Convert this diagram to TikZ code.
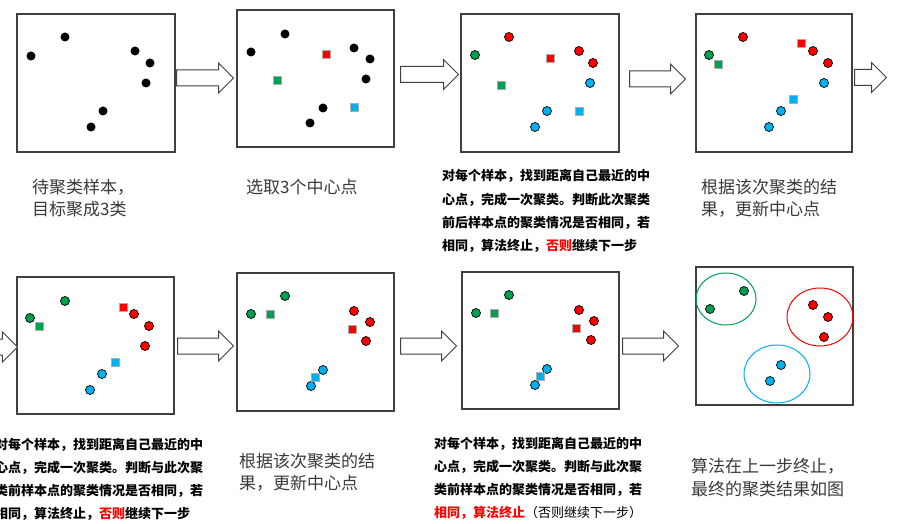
\documentclass[tikz,border=0pt]{standalone}
\usepackage{fontspec}
\newfontfamily\cjk{Noto Sans CJK SC}
\usetikzlibrary{shapes.arrows}

\definecolor{kgreen}{HTML}{00A050}
\definecolor{kred}{HTML}{FF0000}
\definecolor{kblue}{HTML}{00B0F0}
\definecolor{frame}{HTML}{404040}
\definecolor{capgray}{HTML}{3A3A3A}

\tikzset{
  panel/.style={draw=frame, line width=1.2bp},
  sample/.style={circle, fill=black, inner sep=0pt, minimum size=9bp},
  csample/.style={circle, fill=#1, draw=black, line width=0.7bp, inner sep=0pt, minimum size=9bp},
  centre/.style={rectangle, fill=#1, draw=gray!65, line width=0.7bp, inner sep=0pt, minimum size=8bp},
  blockarrow/.style={single arrow, draw=frame, fill=white, line width=1bp,
    minimum width=29bp, minimum height=#1, single arrow head extend=7bp,
    inner xsep=0pt, inner ysep=7.5bp, anchor=tail},
  caption/.style={anchor=base west, inner sep=0pt, text=capgray,
    font=\cjk\fontsize{17bp}{22bp}\selectfont},
  note/.style={anchor=base west, inner sep=0pt,
    font=\cjk\bfseries\fontsize{13bp}{16bp}\selectfont},
}

\begin{document}
\begin{tikzpicture}[x=1bp, y=-1bp]
  \useasboundingbox (0,0) rectangle (922,524);
  \fill[white] (0,0) rectangle (922,524);
  \clip (0,0) rectangle (922,524);

  % Frames
  \draw[panel] (17,14) rectangle (175,152);
  \draw[panel] (237,10) rectangle (394,147);
  \draw[panel] (461,14) rectangle (619,152);
  \draw[panel] (696,14) rectangle (852,152);
  \draw[panel] (17,277) rectangle (174,414);
  \draw[panel] (237,273) rectangle (394,411);
  \draw[panel] (462,272) rectangle (619,409);
  \draw[panel] (696,267) rectangle (853,405);

  % Arrows between steps
  \node[blockarrow=57bp] (arr1) at (176,78) {};
  \node[blockarrow=58bp] (arr2) at (400,74.5) {};
  \node[blockarrow=56bp] (arr3) at (629,79) {};
  \node[blockarrow=32bp] (arr4) at (854,77.5) {};
  \node[blockarrow=57bp] (arr5) at (-40,347) {};
  \node[blockarrow=56bp] (arr6) at (177,346) {};
  \node[blockarrow=56bp] (arr7) at (400,346) {};
  \node[blockarrow=56bp] (arr8) at (622,346) {};

  % Step 1: raw samples
  \foreach \x/\y [count=\i] in {31/56, 65/37, 135/51, 150/63, 146/83, 103/111, 91/127}
    \node[sample] (a\i) at (\x,\y) {};

  % Step 2: pick three centres
  \foreach \x/\y [count=\i] in {251/52, 285/34, 354/48, 370/59, 366/79, 323/108, 310/123}
    \node[sample] (b\i) at (\x,\y) {};
  \node[centre=kred] (bR) at (326,54) {};
  \node[centre=kgreen] (bG) at (277,80) {};
  \node[centre=kblue] (bB) at (354,107) {};

  % Step 3: first assignment
  \node[csample=kgreen] (c1) at (475,55) {};
  \foreach \x/\y [count=\i] in {509/37, 579/51, 593/63}
    \node[csample=kred] (cr\i) at (\x,\y) {};
  \foreach \x/\y [count=\i] in {590/83, 547/111, 535/127}
    \node[csample=kblue] (cb\i) at (\x,\y) {};
  \node[centre=kred] (cR) at (550,58) {};
  \node[centre=kgreen] (cG) at (501,85) {};
  \node[centre=kblue] (cB) at (579,111) {};

  % Step 4: new centres
  \node[csample=kgreen] (d1) at (709,55) {};
  \foreach \x/\y [count=\i] in {743/37, 813/51, 828/63}
    \node[csample=kred] (dr\i) at (\x,\y) {};
  \foreach \x/\y [count=\i] in {824/83, 781/111, 769/127}
    \node[csample=kblue] (db\i) at (\x,\y) {};
  \node[centre=kgreen] (dG) at (718,64) {};
  \node[centre=kred] (dR) at (801,43) {};
  \node[centre=kblue] (dB) at (793,99) {};

  % Step 5: second assignment
  \foreach \x/\y [count=\i] in {30/318, 65/301}
    \node[csample=kgreen] (eg\i) at (\x,\y) {};
  \foreach \x/\y [count=\i] in {134/314, 149/326, 145/346}
    \node[csample=kred] (er\i) at (\x,\y) {};
  \foreach \x/\y [count=\i] in {102/374, 90/390}
    \node[csample=kblue] (eb\i) at (\x,\y) {};
  \node[centre=kgreen] (eG) at (39,326) {};
  \node[centre=kred] (eR) at (123,307) {};
  \node[centre=kblue] (eB) at (115,362) {};

  % Step 6: centres again
  \foreach \x/\y [count=\i] in {251/314, 285/296}
    \node[csample=kgreen] (fg\i) at (\x,\y) {};
  \foreach \x/\y [count=\i] in {354/311, 370/322, 366/341}
    \node[csample=kred] (fr\i) at (\x,\y) {};
  \foreach \x/\y [count=\i] in {323/370, 311/386}
    \node[csample=kblue] (fb\i) at (\x,\y) {};
  \node[centre=kgreen] (fG) at (270,314) {};
  \node[centre=kred] (fR) at (352,329) {};
  \node[centre=kblue] (fB) at (315,377) {};

  % Step 7: nothing changes
  \foreach \x/\y [count=\i] in {476/313, 509/295}
    \node[csample=kgreen] (gg\i) at (\x,\y) {};
  \foreach \x/\y [count=\i] in {579/310, 594/321, 591/340}
    \node[csample=kred] (gr\i) at (\x,\y) {};
  \foreach \x/\y [count=\i] in {547/369, 535/385}
    \node[csample=kblue] (gb\i) at (\x,\y) {};
  \node[centre=kgreen] (gG) at (494,313) {};
  \node[centre=kred] (gR) at (576,328) {};
  \node[centre=kblue] (gB) at (540,376) {};

  % Step 8: final clusters
  \draw[kgreen, line width=1bp] (726,299) ellipse [x radius=30bp, y radius=26bp];
  \draw[kred, line width=1bp] (820,317) ellipse [x radius=33bp, y radius=29bp];
  \draw[kblue, line width=1bp] (777,374) ellipse [x radius=33bp, y radius=29bp];
  \foreach \x/\y [count=\i] in {710/309, 744/291}
    \node[csample=kgreen] (hg\i) at (\x,\y) {};
  \foreach \x/\y [count=\i] in {813/305, 828/317, 824/337}
    \node[csample=kred] (hr\i) at (\x,\y) {};
  \foreach \x/\y [count=\i] in {781/365, 770/381}
    \node[csample=kblue] (hb\i) at (\x,\y) {};

  % Captions
  \node[caption] (cap1a) at (32,194) {待聚类样本，};
  \node[caption] (cap1b) at (32,216) {目标聚成3类};
  \node[caption] (cap2) at (246,194) {选取3个中心点};
  \node[caption] (cap4a) at (701,194) {根据该次聚类的结};
  \node[caption] (cap4b) at (701,216) {果，更新中心点};
  \node[caption] (cap6a) at (239,467) {根据该次聚类的结};
  \node[caption] (cap6b) at (239,489) {果，更新中心点};
  \node[caption] (cap8a) at (691,472) {算法在上一步终止，};
  \node[caption] (cap8b) at (691,495) {最终的聚类结果如图};

  % Notes
  \node[note] (n3a) at (442,181) {对每个样本，找到距离自己最近的中};
  \node[note] (n3b) at (442,205) {心点，完成一次聚类。判断此次聚类};
  \node[note] (n3c) at (442,228) {前后样本点的聚类情况是否相同，若};
  \node[note] (n3d) at (442,251) {相同，算法终止，{\color{kred}否则}继续下一步};
  \node[note] (n5a) at (-5,449) {对每个样本，找到距离自己最近的中};
  \node[note] (n5b) at (-5,472) {心点，完成一次聚类。判断与此次聚};
  \node[note] (n5c) at (-5,495) {类前样本点的聚类情况是否相同，若};
  \node[note] (n5d) at (-5,518) {相同，算法终止，{\color{kred}否则}继续下一步};
  \node[note] (n7a) at (434,448) {对每个样本，找到距离自己最近的中};
  \node[note] (n7b) at (434,471) {心点，完成一次聚类。判断与此次聚};
  \node[note] (n7c) at (434,494) {类前样本点的聚类情况是否相同，若};
  \node[note] (n7d) at (434,517) {{\color{kred}相同，算法终止}\mdseries（否则继续下一步）};
\end{tikzpicture}
\end{document}
